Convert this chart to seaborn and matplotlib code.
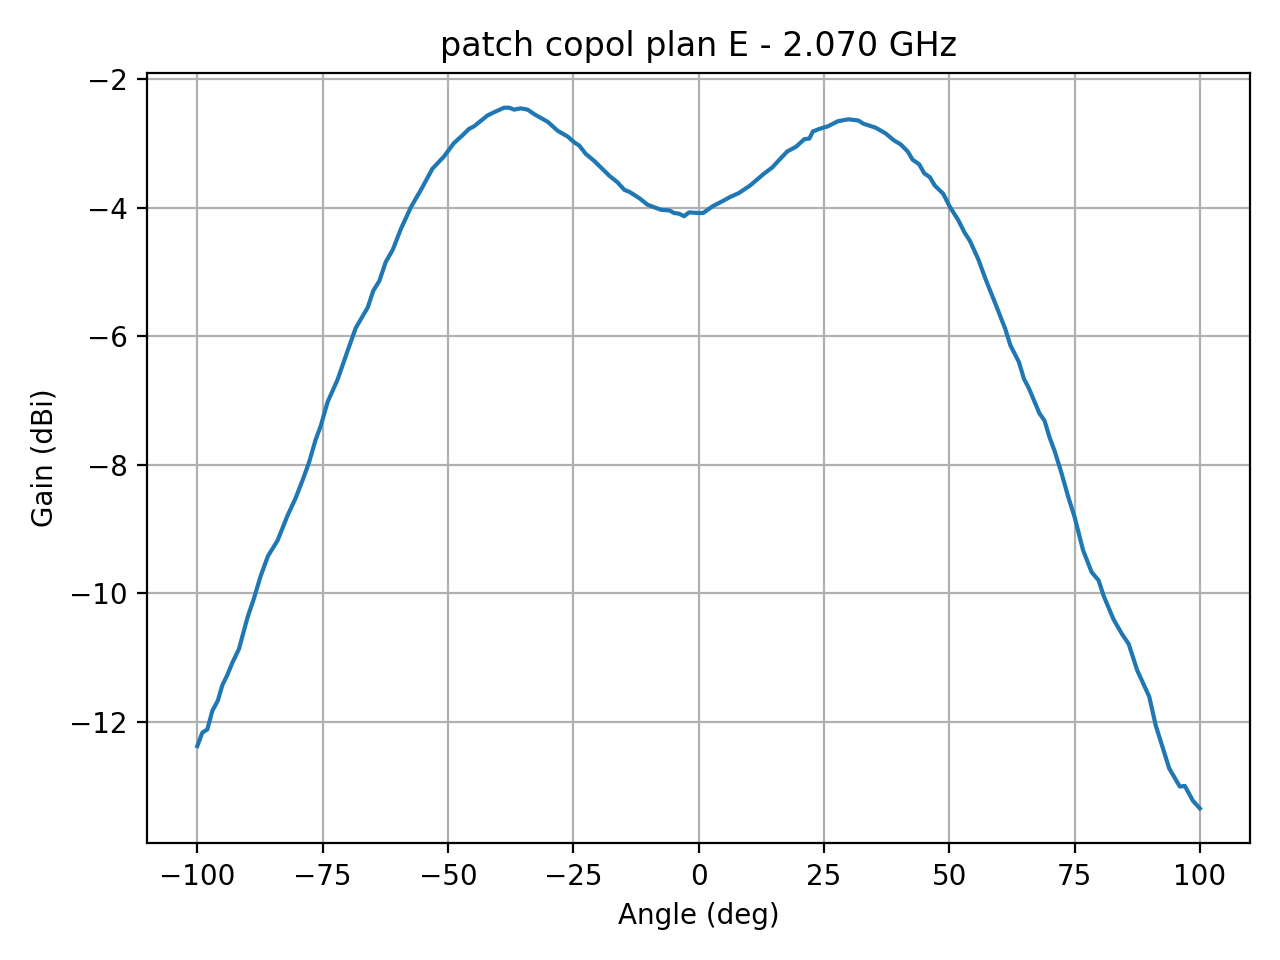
import matplotlib
matplotlib.use("Agg")
import matplotlib.pyplot as plt
import seaborn as sns
import pandas as pd

angle_deg = [-100, -99, -98, -97, -95.9, -95, -94, -93, -91.7, -90, -88.7, -87.4, -85.9,
             -84, -82, -80.4, -79, -77.7, -76.4, -75.4, -74, -72, -70.4, -68.4, -66,
             -64.9, -63.7, -62.4, -61, -59.4, -57.4, -55.4, -53.1, -50.8, -48.8, -47.1,
             -45.8, -44.8, -42.1, -40.5, -38.8, -37.8, -36.8, -35.5, -34.1, -32.8, -30.1,
             -28.1, -26.1, -24.8, -23.8, -22.5, -20.8, -17.8, -16.2, -14.8, -13.8, -11.8,
             -10.2, -7.5, -5.8, -4.9, -3.9, -2.9, -1.9, 0, 0.9, 2.9, 4.9, 6.3, 8, 10.3,
             13, 14.7, 16, 17.7, 19.4, 21.1, 22.1, 22.8, 24.1, 25.8, 27.8, 29.9, 31.9,
             32.9, 35.3, 37.3, 39, 40.3, 41.7, 42.7, 44, 45, 46.1, 47.1, 48.8, 50.1, 51.8,
             53.1, 54.1, 55.8, 57.2, 59.2, 61.2, 62.2, 63.9, 64.9, 65.9, 68, 69, 70, 71,
             72.4, 73.7, 75, 76.7, 78.4, 79.8, 80.8, 82.8, 84.5, 85.8, 87.5, 89.9, 91.2,
             93.9, 96, 97, 98.6, 100]

gain_dbi = [-12.38, -12.17, -12.12, -11.83, -11.67, -11.43, -11.27, -11.08, -10.87, -10.38,
            -10.08, -9.74, -9.42, -9.18, -8.79, -8.52, -8.24, -7.96, -7.61, -7.40, -7.02,
            -6.67, -6.31, -5.87, -5.55, -5.29, -5.14, -4.84, -4.65, -4.33, -3.99, -3.72,
            -3.39, -3.20, -2.99, -2.87, -2.77, -2.73, -2.56, -2.50, -2.44, -2.44, -2.47,
            -2.45, -2.47, -2.54, -2.66, -2.80, -2.89, -2.98, -3.03, -3.16, -3.27, -3.50,
            -3.60, -3.72, -3.75, -3.85, -3.95, -4.03, -4.04, -4.08, -4.09, -4.13, -4.07,
            -4.08, -4.08, -3.97, -3.89, -3.83, -3.77, -3.65, -3.47, -3.37, -3.26, -3.12,
            -3.05, -2.93, -2.92, -2.81, -2.77, -2.73, -2.65, -2.62, -2.64, -2.69, -2.75,
            -2.84, -2.95, -3.01, -3.12, -3.25, -3.32, -3.46, -3.52, -3.65, -3.78, -3.98,
            -4.19, -4.39, -4.51, -4.80, -5.10, -5.49, -5.89, -6.14, -6.40, -6.66, -6.81,
            -7.20, -7.31, -7.57, -7.78, -8.13, -8.49, -8.81, -9.33, -9.67, -9.80, -10.04,
            -10.41, -10.64, -10.79, -11.20, -11.61, -12.06, -12.73, -13.01, -13.00, -13.23,
            -13.35]

title = "patch copol plan E - 2.070 GHz"
x_label = "Angle (deg)"
y_label = "Gain (dBi)"

df = pd.DataFrame({"angle": angle_deg, "gain": gain_dbi})

fig, ax = plt.subplots(figsize=(6.4, 4.8), dpi=200)
sns.lineplot(data=df, x="angle", y="gain", ax=ax, color="#1f77b4", linewidth=1.5)
ax.set_title(title)
ax.set_xlabel(x_label)
ax.set_ylabel(y_label)
ax.grid(True)
fig.tight_layout()
fig.savefig("out.png", dpi=200)
